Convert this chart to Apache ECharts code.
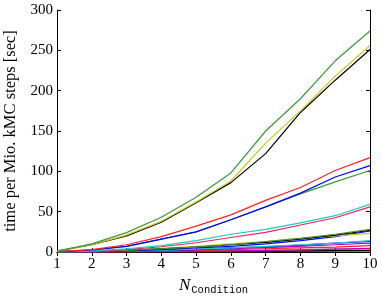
<!DOCTYPE html>
<html><head><meta charset="utf-8">
<script src="https://cdn.jsdelivr.net/npm/echarts@6/dist/echarts.min.js"></script>
<style>html,body{margin:0;padding:0;background:#fff}#c{width:382px;height:296px}</style>
</head><body><div id="c"></div>
<script>
var nCondition = [1,2,3,4,5,6,7,8,9,10];
var xTicks = [1,2,3,4,5,6,7,8,9,10];
var yTicks = [0,50,100,150,200,250,300];

var g1 = [1,10,24,43,68,98,150,190,237,274];
var y1 = [1,9,21,38,62,88,135,175,218,256];
var k1 = [1,9,20,37,61,86,122,173,213,251];
var r1 = [0.5,3,9,19,32,46,64,80,101,117];
var b1 = [0.5,2.5,7,16,25,40,56,73,93,107];
var g2 = [0.5,2.5,7,16,25,40,56,72,87,101];
var c1 = [0.3,1.5,4,8,14,22,28,36,45,59];
var r2 = [0.3,1,3,6.5,11.5,18,24.4,33.5,42.5,56];
var g3 = [0.2,0.8,2,4,6,9,13,17,22,28];
var k2 = [0.2,0.7,2,4,6,9,12,16,21,27];
var y2 = [0.2,0.8,2.2,4.5,7,10,13,17,20,23];
var b2 = [0.1,0.5,1.5,3,5,7,10,14,19,26];
var c2 = [0.1,0.4,1,2,3.5,5,7,9,11,14];
var b3 = [0.1,0.3,1,2,3,5,6.5,8.5,11,13];
var m1 = [0.1,0.3,0.8,1.5,2.5,4,5.5,7,9,11];
var r3 = [0.1,0.2,0.6,1.2,2,3,4,5,6,8];
var m2 = [0,0.1,0.3,0.6,1,1.5,2,2.5,3.5,4.5];
var g4 = [0,0.1,0.3,0.6,1,1.5,2,3,3.5,4];
var k3 = [0,0.1,0.2,0.4,0.6,0.8,1,1.3,1.6,2];
var r4 = [0,0.05,0.1,0.2,0.3,0.4,0.5,0.7,0.9,1.2];

var C = {b:'#0000ff', g:'#3a9a3a', r:'#ff2020', c:'#20c8c8', m:'#c000c0', y:'#c8c820', k:'#000000', cr:'#f0205a'};
var seriesDefs = [
  [r4,C.r],[k3,C.k],[g4,C.g],[m2,C.m],[r3,C.r],[m1,C.m],[b3,C.b],[c2,C.c],
  [b2,C.b],[y2,C.y],[k2,C.k],[g3,C.g],
  [r2,C.cr],[c1,C.c],[g2,C.g],[b1,C.b],[r1,C.r],
  [k1,C.k],[y1,C.y],[g1,C.g]
];

var FONT = '"Liberation Serif", "DejaVu Serif", serif';
function axisCommon(){
  return {
    type:'value',
    axisLine:{show:true, lineStyle:{color:'#000', width:1}},
    axisTick:{show:true, inside:true, length:4, lineStyle:{color:'#000', width:1}},
    splitLine:{show:false}
  };
}
var xBottom = Object.assign(axisCommon(), {
  position:'bottom', min:xTicks[0], max:xTicks[xTicks.length-1], interval:1,
  axisLabel:{color:'#000', fontFamily:FONT, fontSize:15, margin:5},
  name:'{n|N}{s|Condition}', nameLocation:'middle', nameGap:22,
  nameTextStyle:{rich:{
    n:{fontFamily:FONT, fontStyle:'italic', fontSize:17, color:'#000'},
    s:{fontFamily:'"Liberation Mono", "DejaVu Sans Mono", monospace', fontSize:10.5, color:'#000', padding:[9,0,0,1]}
  }}
});
var xTop = Object.assign(axisCommon(), {
  position:'top', min:xTicks[0], max:xTicks[xTicks.length-1], interval:1,
  axisLabel:{show:false}
});
var yLeft = Object.assign(axisCommon(), {
  position:'left', min:yTicks[0], max:yTicks[yTicks.length-1], interval:50,
  axisLabel:{color:'#000', fontFamily:FONT, fontSize:15, margin:4},
  name:'time per Mio. kMC steps [sec]', nameLocation:'middle', nameGap:34,
  nameTextStyle:{fontFamily:FONT, fontSize:16.5, color:'#000'}
});
var yRight = Object.assign(axisCommon(), {
  position:'right', min:yTicks[0], max:yTicks[yTicks.length-1], interval:50,
  axisLabel:{show:false}
});

var series = seriesDefs.map(function(d){
  return {
    type:'line', xAxisIndex:0, yAxisIndex:0, showSymbol:false, symbol:'none',
    lineStyle:{color:d[1], width:1.2}, itemStyle:{color:d[1]},
    data: nCondition.map(function(x,i){ return [x, d[0][i]]; }),
    silent:true, clip:true
  };
});

var chart = echarts.init(document.getElementById('c'), null, {renderer:'canvas'});
chart.setOption({
  animation:false,
  backgroundColor:'#fff',
  grid:{left:57, right:12, top:10, bottom:44, containLabel:false, outerBoundsMode:'none'},
  xAxis:[xBottom, xTop],
  yAxis:[yLeft, yRight],
  series:series
});
</script></body></html>
